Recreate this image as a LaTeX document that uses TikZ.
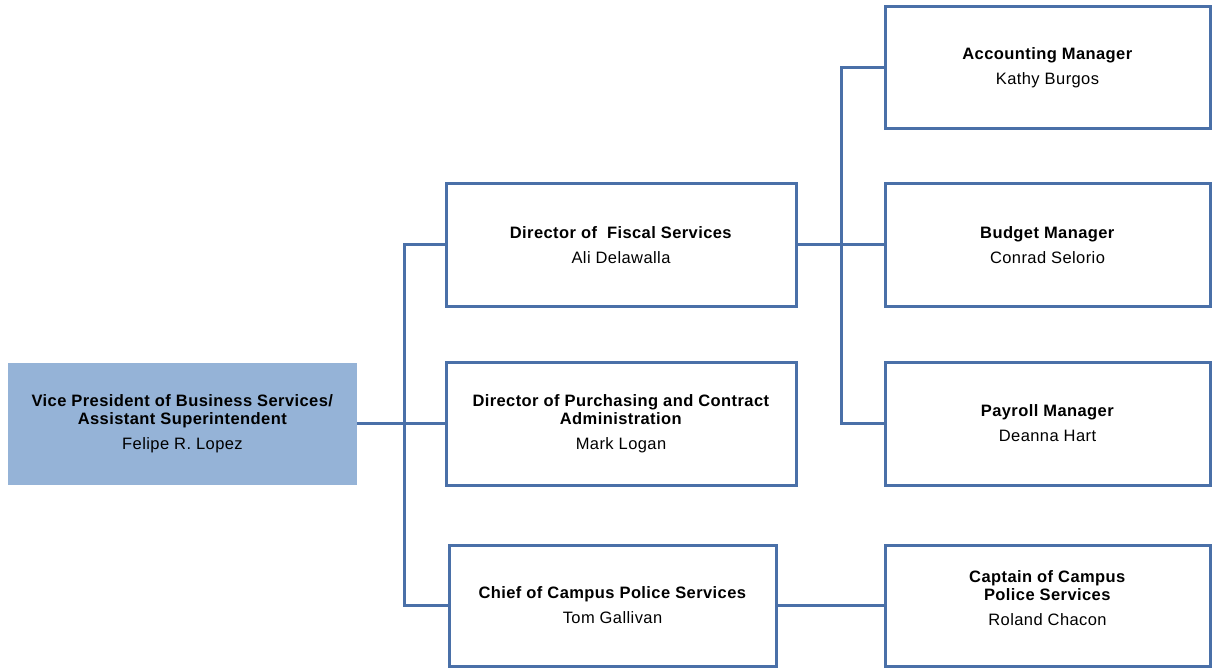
\documentclass[tikz,border=0pt]{standalone}
\usepackage{fontspec}
\setmainfont{Liberation Sans}[LetterSpace=2.5]
\definecolor{edge}{HTML}{4A70A8}
\definecolor{vpfill}{HTML}{95B3D7}
\begin{document}
\begin{tikzpicture}[x=1pt,y=-1pt,
  box/.style={draw=edge, line width=3pt, fill=white, align=center,
    font=\fontsize{16.5}{18}\selectfont, inner sep=0pt},
  vpbox/.style={fill=vpfill, align=center,
    font=\fontsize{16.5}{18}\selectfont, inner sep=0pt},
  lbl/.style={align=center, font=\fontsize{16.5}{18}\selectfont, inner sep=0pt},
  link/.style={draw=edge, line width=3pt}]
\useasboundingbox (0,0) rectangle (1212,668);

% top level
\node[vpbox, minimum width=349pt, minimum height=122pt] (vp) at (182.5,423.5)
  {\textbf{Vice President of Business Services/}\\\textbf{Assistant Superintendent}\\[7pt]Felipe R. Lopez};

% directors
\node[box, minimum width=350pt, minimum height=122pt] (fis) at (621,245)
  {\textbf{Director of~ Fiscal Services}\\[7pt]Ali Delawalla};
\node[box, minimum width=350pt, minimum height=123pt] (pur) at (621,423.5)
  {\textbf{Director of Purchasing and Contract}\\\textbf{Administration}\\[7pt]Mark Logan};
\node[box, minimum width=327pt, minimum height=121pt] (pol) at (612.5,605.5)
  {\textbf{Chief of Campus Police Services}\\[7pt]Tom Gallivan};

% managers
\node[box, minimum width=325pt, minimum height=122pt] (acc) at (1047.5,68)
  {\textbf{Accounting Manager}\\[7pt]Kathy Burgos};
\node[box, minimum width=325pt, minimum height=122pt] (bud) at (1047.5,245)
  {\textbf{Budget Manager}\\[7pt]Conrad Selorio};
\node[box, minimum width=325pt, minimum height=123pt] (pay) at (1047.5,423.5)
  {\textbf{Payroll Manager}\\[7pt]Deanna Hart};
\node[box, minimum width=325pt, minimum height=121pt] (cap) at (1047.5,605.5) {};
\node[lbl] (captext) at ([yshift=7pt]cap.center)
  {\textbf{Captain of Campus}\\\textbf{Police Services}\\[7pt]Roland Chacon};

% branch points
\coordinate (vpj) at (404,423.5);
\coordinate (fj) at (841,245);

% vice president to directors
\draw[link] (vp.east) -- (vpj);
\draw[link] (fis.west) -| (vpj);
\draw[link] (pol.west) -| (vpj);
\draw[link] (vpj) -- (pur.west);

% fiscal services to managers
\draw[link] (fis.east) -- (bud.west);
\draw[link] (acc.west) -| (fj);
\draw[link] (pay.west) -| (fj);

% police chain
\draw[link] (pol.east) -- (cap.west);
\end{tikzpicture}
\end{document}
